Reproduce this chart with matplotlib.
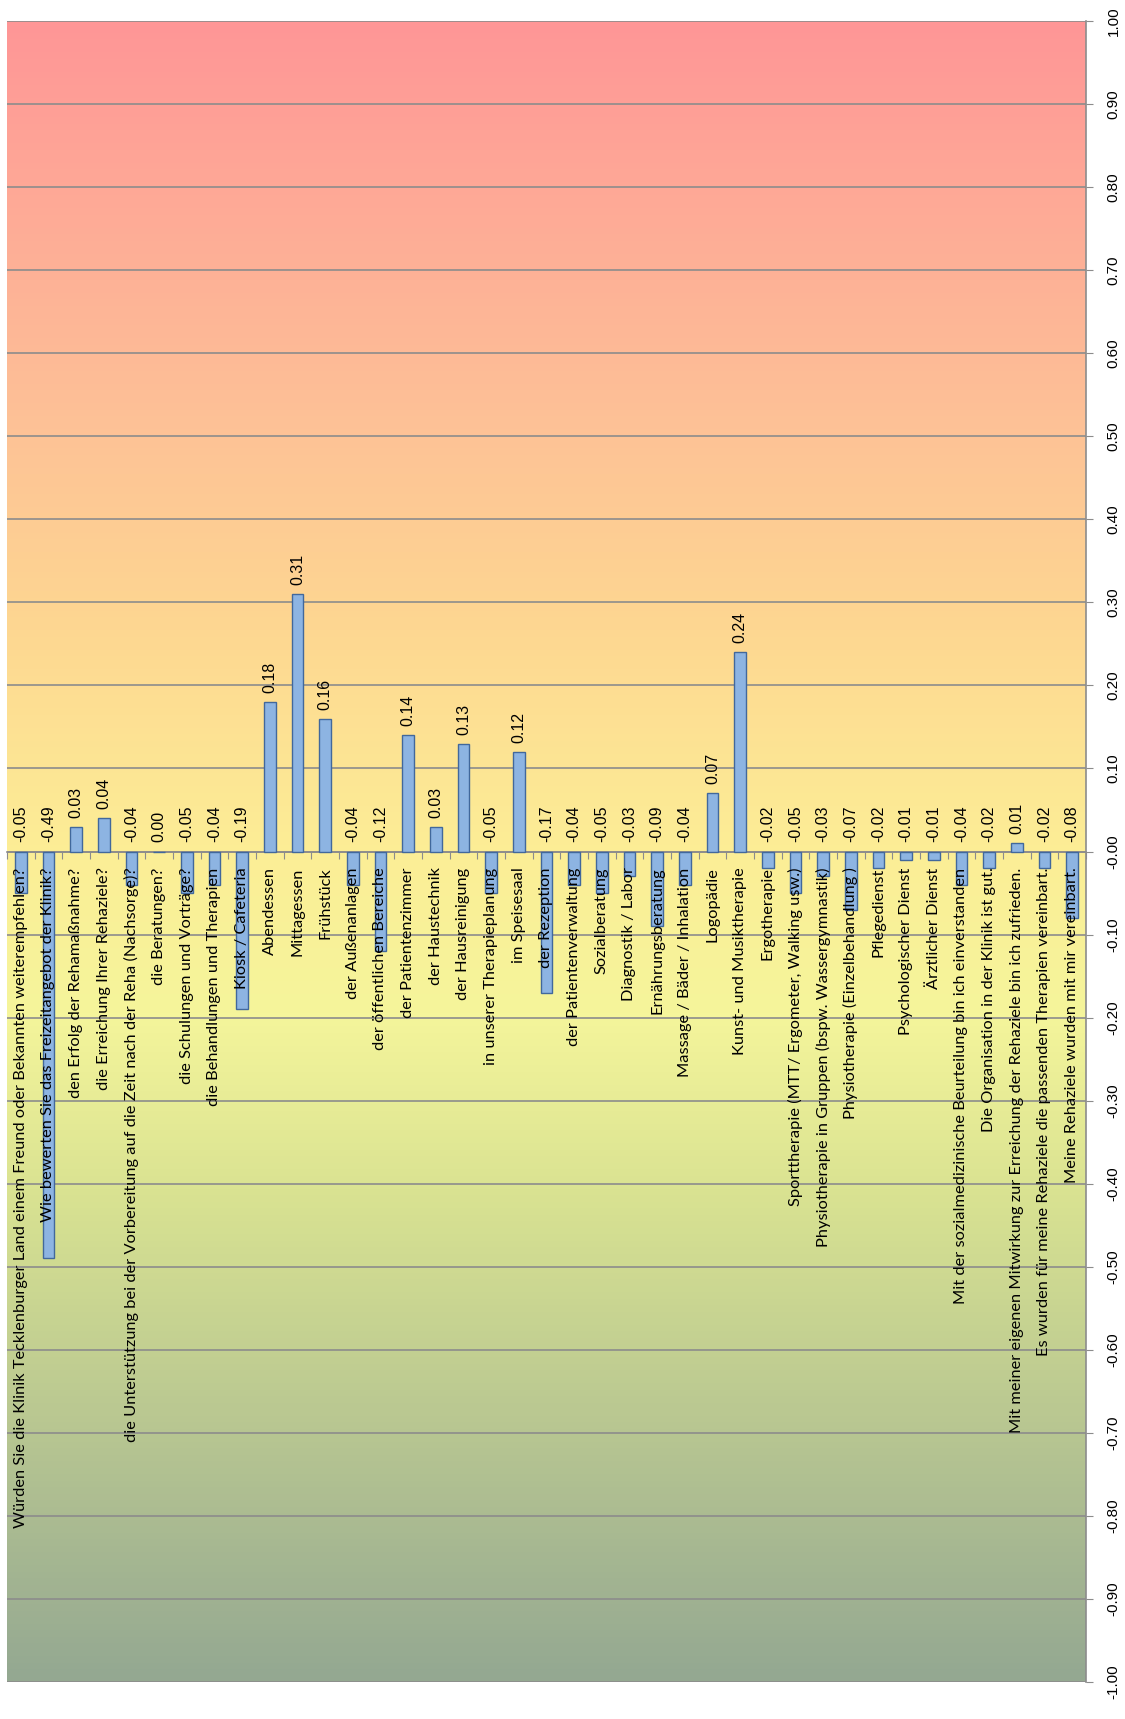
import numpy as np
import matplotlib
matplotlib.use('Agg')
import matplotlib.pyplot as plt
from matplotlib.colors import LinearSegmentedColormap

############################

questions = [
    'Würden Sie die Klinik Tecklenburger Land einem Freund oder Bekannten weiterempfehlen?',
    'Wie bewerten Sie das Freizeitangebot der Klinik?',
    'den Erfolg der Rehamaßnahme?',
    'die Erreichung Ihrer Rehaziele?',
    'die Unterstützung bei der Vorbereitung auf die Zeit nach der Reha (Nachsorge)?',
    'die Beratungen?',
    'die Schulungen und Vorträge?',
    'die Behandlungen und Therapien',
    'Kiosk / Cafeteria',
    'Abendessen',
    'Mittagessen',
    'Frühstück',
    'der Außenanlagen',
    'der öffentlichen Bereiche',
    'der Patientenzimmer',
    'der Haustechnik',
    'der Hausreinigung',
    'in unserer Therapieplanung',
    'im Speisesaal',
    'der Rezeption',
    'der Patientenverwaltung',
    'Sozialberatung',
    'Diagnostik / Labor',
    'Ernährungsberatung',
    'Massage / Bäder / Inhalation',
    'Logopädie',
    'Kunst- und Musiktherapie',
    'Ergotherapie',
    'Sporttherapie (MTT/ Ergometer, Walking usw.)',
    'Physiotherapie in Gruppen (bspw. Wassergymnastik)',
    'Physiotherapie (Einzelbehandlung )',
    'Pflegedienst',
    'Psychologischer Dienst',
    'Ärztlicher Dienst',
    'Mit der sozialmedizinische Beurteilung bin ich einverstanden',
    'Die Organisation in der Klinik ist gut.',
    'Mit meiner eigenen Mitwirkung zur Erreichung der Rehaziele bin ich zufrieden.',
    'Es wurden für meine Rehaziele die passenden Therapien vereinbart.',
    'Meine Rehaziele wurden mit mir vereinbart.',
]

scores = [-0.05, -0.49, 0.03, 0.04, -0.04, 0.00, -0.05, -0.04, -0.19,
          0.18, 0.31, 0.16, -0.04, -0.12, 0.14, 0.03, 0.13, -0.05, 0.12,
          -0.17, -0.04, -0.05, -0.03, -0.09, -0.04, 0.07, 0.24, -0.02,
          -0.05, -0.03, -0.07, -0.02, -0.01, -0.01, -0.04, -0.02, 0.01,
          -0.02, -0.08]

ticks = np.round(np.arange(-1.0, 1.01, 0.1), 2)

# background colour stops, from -1 (bottom) to +1 (top)
bg_stops = [
    (0.000, (148, 168, 145)),
    (0.135, (180, 195, 145)),
    (0.285, (215, 225, 145)),
    (0.400, (245, 245, 155)),
    (0.500, (252, 238, 150)),
    (0.635, (254, 215, 145)),
    (0.750, (253, 195, 150)),
    (1.000, (255, 150, 150)),
]

GRID = '#8c8c8c'


def background_cmap():
    stops = [(p, tuple(c / 255. for c in rgb)) for p, rgb in bg_stops]
    return LinearSegmentedColormap.from_list('bg', stops)


def main():
    fig = plt.figure(figsize=(11.25, 17.19), dpi=100)
    ax = fig.add_axes([0.0062, 0.0215, 0.9591, 0.9663])

    n = len(scores)
    x = np.arange(n)
    ax.set_xlim(-0.5, n - 0.5)
    ax.set_ylim(-1.0, 1.0)

    grad = np.linspace(0, 1, 512).reshape(-1, 1)
    ax.imshow(grad, cmap=background_cmap(), origin='lower', aspect='auto',
              extent=(-0.5, n - 0.5, -1.0, 1.0), zorder=0)

    for t in ticks:
        ax.axhline(t, color=GRID, lw=1.2, zorder=1)

    ax.bar(x, scores, width=0.43, color='#8db4e2', edgecolor='#41689c',
           lw=1.0, zorder=3)

    # value labels sit above the bar top (or above zero for negative bars)
    for xi, v in zip(x, scores):
        ax.annotate('{:.2f}'.format(v), (xi, max(v, 0)),
                    xytext=(0, 6.5), textcoords='offset points',
                    rotation=90, ha='center', va='bottom',
                    fontsize=11.5, family='Liberation Sans', color='black',
                    zorder=5)

    # question text hangs below the zero line
    for xi, q in zip(x, questions):
        ax.annotate(q, (xi, 0), xytext=(0, -11.5), textcoords='offset points',
                    rotation=90, ha='center', va='top',
                    fontsize=11.8, family='Lato', color='black', zorder=5)

    # zero line with category separator ticks
    ax.spines['bottom'].set_position(('data', 0))
    ax.spines['bottom'].set_color(GRID)
    ax.spines['bottom'].set_linewidth(1.2)
    ax.set_xticks(np.arange(-0.5, n, 1.0))
    ax.tick_params(axis='x', direction='out', length=5, color=GRID,
                   labelbottom=False)

    ax.spines['left'].set_visible(False)
    ax.spines['top'].set_visible(False)
    ax.spines['right'].set_color(GRID)
    ax.spines['right'].set_linewidth(1.2)
    ax.yaxis.tick_right()
    ax.set_yticks(ticks)
    ax.set_yticklabels(['{:.2f}'.format(t) for t in ticks], rotation=90,
                       va='center', fontsize=11, family='Liberation Sans')
    ax.tick_params(axis='y', direction='out', length=5, color=GRID, pad=10)

    fig.savefig('out.png', dpi=100)


if __name__ == "__main__":
    main()
